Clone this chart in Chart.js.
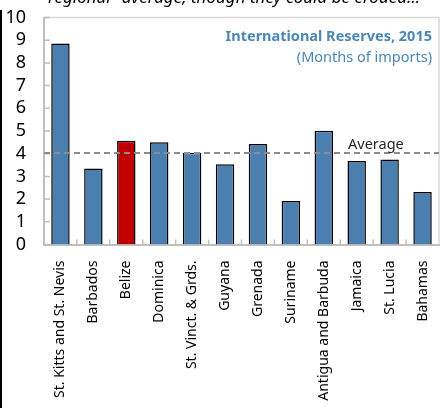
<!DOCTYPE html>
<html>
<head>
<meta charset="utf-8">
<script src="https://cdn.jsdelivr.net/npm/chart.js@4"></script>
<style>
  html, body { margin: 0; padding: 0; background: #fff; }
  #wrap { width: 440px; height: 408px; position: relative; }
</style>
</head>
<body>
<div id="wrap"><canvas id="myChart" width="440" height="408"></canvas></div>
<script>
const countries = ['St. Kitts and St. Nevis', 'Barbados', 'Belize', 'Dominica', 'St. Vinct. & Grds.',
    'Guyana', 'Grenada', 'Suriname', 'Antigua and Barbuda', 'Jamaica', 'St. Lucia', 'Bahamas'];
const reserves = [8.85, 3.35, 4.57, 4.5, 4.04, 3.53, 4.43, 1.92, 5.01, 3.68, 3.75, 2.31];
const average = 4.03;
const yTicks = [0, 1, 2, 3, 4, 5, 6, 7, 8, 9, 10];

const blue = '#4a7fb0';
const red = '#c00000';
const font = '"Noto Sans", "Open Sans", sans-serif';

const ctx = document.getElementById('myChart').getContext('2d');

// frame, inner ticks, average line and the text boxes
const decorations = {
    id: 'decorations',
    beforeDatasetsDraw(chart) {
        const c = chart.ctx;
        const area = chart.chartArea;
        const x = chart.scales.x;
        const y = chart.scales.y;
        c.save();
        // light frame on top and right
        c.strokeStyle = '#d9d9d9';
        c.lineWidth = 1.5;
        c.beginPath();
        c.moveTo(area.left, area.top);
        c.lineTo(area.right, area.top);
        c.lineTo(area.right, area.bottom);
        c.stroke();
        // inner tick marks
        c.strokeStyle = '#bfbfbf';
        c.lineWidth = 1.5;
        c.beginPath();
        yTicks.forEach(v => {
            const py = y.getPixelForValue(v);
            c.moveTo(area.left, py);
            c.lineTo(area.left + 6, py);
        });
        const half = (x.getPixelForValue(1) - x.getPixelForValue(0)) / 2;
        for (let i = 0; i < countries.length - 1; i++) {
            const px = x.getPixelForValue(i) + half;
            c.moveTo(px, area.bottom);
            c.lineTo(px, area.bottom - 5);
        }
        c.stroke();
        c.restore();
    },
    afterDatasetsDraw(chart) {
        const c = chart.ctx;
        const area = chart.chartArea;
        const y = chart.scales.y;
        const py = y.getPixelForValue(average);
        c.save();
        c.strokeStyle = '#8c8c8c';
        c.lineWidth = 2;
        c.setLineDash([6, 4]);
        c.beginPath();
        c.moveTo(area.left, py);
        c.lineTo(area.right, py);
        c.stroke();
        c.setLineDash([]);

        c.fillStyle = '#262626';
        c.font = '14.5px ' + font;
        c.textAlign = 'left';
        c.textBaseline = 'alphabetic';
        c.fillText('Average', 348, py - 4);

        c.textAlign = 'right';
        c.fillStyle = '#4b88b6';
        c.font = 'bold 14.5px ' + font;
        c.fillText('International Reserves, 2015', 432, 41);
        c.font = '14.5px ' + font;
        c.fillText('(Months of imports)', 432, 62);

        // heading from the page above, cut by the top edge
        c.textAlign = 'left';
        c.fillStyle = '#000';
        c.font = 'italic 17px ' + font;
        c.fillText('regional" average, though they could be eroded…', 48, 3, 390);

        // page edge on the left
        c.fillStyle = '#000';
        c.fillRect(0, 10, 2, 398);
        c.restore();
    }
};

new Chart(ctx, {
    type: 'bar',
    data: {
        labels: countries,
        datasets: [{
            data: reserves,
            backgroundColor: countries.map(n => n === 'Belize' ? red : blue),
            borderColor: '#000',
            borderWidth: 1.5,
            categoryPercentage: 1,
            barPercentage: 0.56
        }]
    },
    options: {
        responsive: false,
        animation: false,
        layout: { padding: { top: 17.5, right: 1, left: 0, bottom: 0 } },
        plugins: {
            legend: { display: false },
            tooltip: { enabled: false }
        },
        scales: {
            x: {
                grid: { display: false, drawTicks: false },
                border: { color: '#bfbfbf', width: 2 },
                ticks: {
                    color: '#000',
                    font: { family: font, size: 14 },
                    minRotation: 90,
                    maxRotation: 90,
                    autoSkip: false,
                    padding: 16
                },
                afterFit: s => {
                    s.height = 408 - 244.5;
                    s.paddingLeft = 0;
                    s.paddingRight = 0;
                }
            },
            y: {
                min: 0,
                max: 10,
                afterBuildTicks: s => { s.ticks = yTicks.map(v => ({ value: v })); },
                grid: { display: false, drawTicks: false },
                border: { color: '#bfbfbf', width: 2 },
                ticks: {
                    color: '#000',
                    font: { family: font, size: 18 },
                    padding: 18,
                    autoSkip: false
                },
                afterFit: s => {
                    s.width = 44;
                    s.paddingTop = 0;
                    s.paddingBottom = 0;
                }
            }
        }
    },
    plugins: [decorations]
});
</script>
</body>
</html>
